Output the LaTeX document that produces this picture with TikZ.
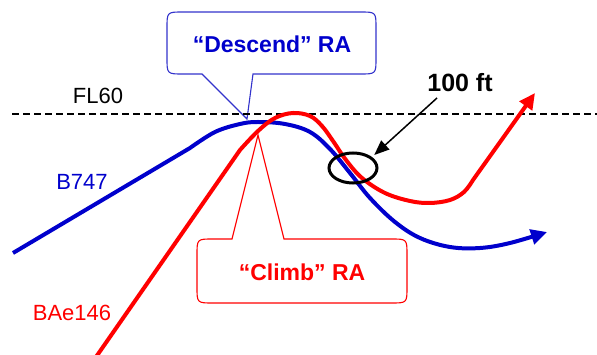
\documentclass[tikz,border=0pt]{standalone}
\usepackage{fontspec}
\setmainfont{Liberation Sans}
\usetikzlibrary{arrows.meta,shapes.geometric}
\definecolor{ablue}{RGB}{0,0,204}
\definecolor{bblue}{RGB}{51,51,204}
\definecolor{ared}{RGB}{255,0,0}
\tikzset{
  callout/.style={line width=1.1pt, fill=white},
  traj/.style={line width=4pt},
  lbl/.style={inner sep=0pt, font=\fontsize{22}{24}\selectfont},
  calltext/.style={inner sep=0pt, font=\fontsize{23}{26}\selectfont\bfseries},
}
\begin{document}
\begin{tikzpicture}[x=1pt,y=-1pt]
\useasboundingbox (0,0) rectangle (597,355);
% Descend callout
\draw[callout, draw=bblue] (183,12) -- (360,12) .. controls (376,12) .. (376,28) -- (376,58)
  .. controls (376,74) .. (360,74) -- (253,74) -- (247,119) -- (202,74) -- (183,74)
  .. controls (167,74) .. (167,58) -- (167,28) .. controls (167,12) .. (183,12) -- cycle;
% Climb callout
\draw[callout, draw=ared] (213,239) -- (232,239) -- (258,135) -- (284,239) -- (391,239)
  .. controls (407,239) .. (407,255) -- (407,287) .. controls (407,303) .. (391,303)
  -- (213,303) .. controls (197,303) .. (197,287) -- (197,255) .. controls (197,239) .. (213,239) -- cycle;
\node[calltext, text=ablue] (desc) at (272,44) {“Descend” RA};
\node[calltext, text=ared] (climb) at (302,272) {“Climb” RA};
% FL60 line
\coordinate (fla) at (12,114);
\coordinate (flb) at (597,114);
\draw[line width=1.8pt, dash pattern=on 7pt off 4pt] (fla) -- (flb);
% B747
\draw[traj, draw=ablue, -{Triangle[length=16pt,width=15pt]}] (13,253) -- plot[smooth,tension=0.6] coordinates {
  (190,148) (215,132) (240,124) (258,122) (285,124) (310,132) (330,149) (350,173)
  (370,198) (395,222) (420,238) (450,247) (480,248) (510,243) (547,232)};
% BAe146
\draw[traj, draw=ared, -{Triangle[length=16pt,width=15pt]}] (96,357) -- plot[smooth,tension=0.6] coordinates {
  (240,150) (258,131) (275,118) (293,113) (310,116) (322,126) (333,141) (346,160)
  (362,178) (385,193) (410,201) (430,203) (450,200) (464,192) (473,180)} -- (535,93);
% ellipse and 100 ft
\node[draw, ellipse, line width=3pt, minimum width=48pt, minimum height=30pt, inner sep=0pt] (ell) at (353,168) {};
\node[inner sep=0pt, font=\fontsize{25}{27}\selectfont\bfseries] (t100) at (460,83) {100 ft};
\coordinate (tail100) at (437,98);
\draw[line width=1.5pt, -{Triangle[length=15pt,width=12pt]}, shorten >=3pt] (tail100) -- (ell.30);
% labels
\node[lbl] (fl) at (98,96) {FL60};
\node[lbl, text=ablue] (b747) at (82,182) {B747};
\node[lbl, text=ared] (bae) at (72,313) {BAe146};
\end{tikzpicture}
\end{document}
